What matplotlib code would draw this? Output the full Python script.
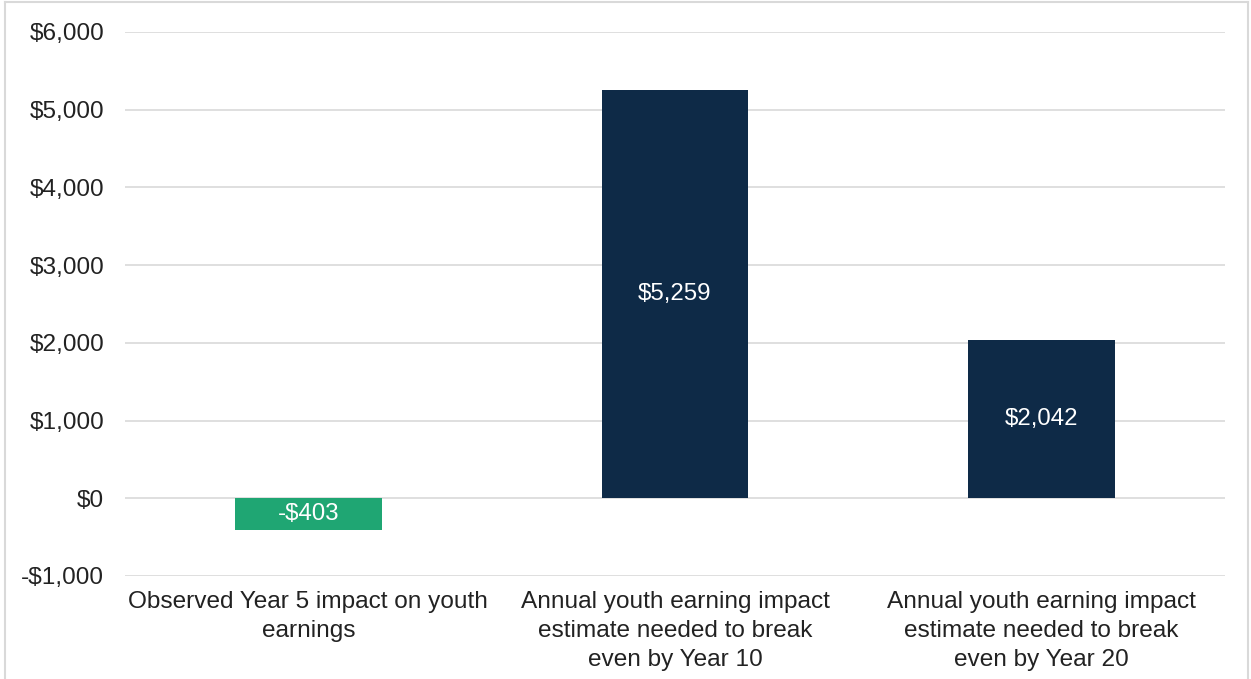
import matplotlib.pyplot as plt
from matplotlib.lines import Line2D

plt.rcParams['font.family'] = ['Liberation Sans', 'DejaVu Sans']

categories = [
    'Observed Year 5 impact on youth\nearnings',
    'Annual youth earning impact\nestimate needed to break\neven by Year 10',
    'Annual youth earning impact\nestimate needed to break\neven by Year 20',
]
values = [-403, 5259, 2042]
colors = ['#1fa673', '#0e2a47', '#0e2a47']
yticks = [-1000, 0, 1000, 2000, 3000, 4000, 5000, 6000]

fig = plt.figure(figsize=(12.51, 6.79), dpi=100)
ax = fig.add_axes([0.0999, 0.1517, 0.8793, 0.8012])

# Bars
x = range(len(values))
bars = ax.bar(x, values, width=0.40, color=colors, zorder=3)

# Value labels inside bars
for b, v in zip(bars, values):
    label = f'-${abs(v):,}' if v < 0 else f'${v:,}'
    ax.text(b.get_x() + b.get_width() / 2, v / 2, label,
            ha='center', va='center', color='white', fontsize=17.3, zorder=4)

ax.set_xlim(-0.5, 2.5)
ax.set_ylim(-1000, 6000)
ax.set_yticks(yticks)
ax.set_yticklabels([f'-${abs(t):,}' if t < 0 else f'${t:,}' for t in yticks])
ax.set_xticks(list(x))
ax.set_xticklabels(categories, linespacing=1.4)

# Gridlines
ax.grid(axis='y', color='#d9d9d9', linewidth=1.2, zorder=0)
for s in ax.spines.values():
    s.set_visible(False)
ax.tick_params(axis='both', length=0, labelsize=17.6, colors='#222222')
ax.tick_params(axis='y', pad=15)
ax.tick_params(axis='x', pad=11)

# Light border round the figure
w, h = 1251, 679
for xs, ys in [([5 / w, 5 / w], [0, 1 - 2 / h]),
               ([5 / w, 1248 / w], [1 - 2 / h, 1 - 2 / h]),
               ([1248 / w, 1248 / w], [0, 1 - 2 / h])]:
    fig.add_artist(Line2D(xs, ys, color='#d9d9d9', linewidth=1.5))

fig.savefig('out.png', dpi=100)
